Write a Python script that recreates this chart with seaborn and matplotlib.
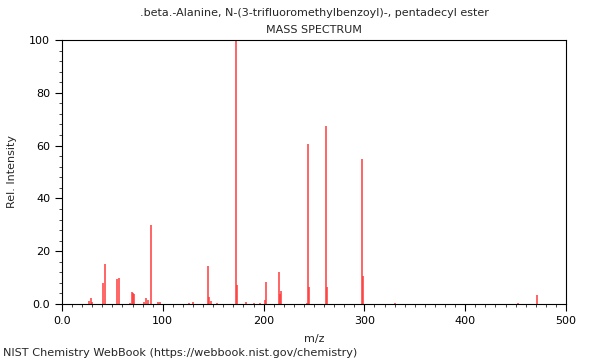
import matplotlib
matplotlib.use("Agg")
import matplotlib.pyplot as plt
import seaborn as sns
import numpy as np
import pandas as pd
from matplotlib.ticker import MultipleLocator, FuncFormatter

title = ".beta.-Alanine, N-(3-trifluoromethylbenzoyl)-, pentadecyl ester"
subtitle = "MASS SPECTRUM"
footer = "NIST Chemistry WebBook (https://webbook.nist.gov/chemistry)"

mz = [27, 29, 30, 41, 43, 55, 57, 67, 69, 70, 71, 81, 83, 85, 88, 95, 97,
      126, 130, 145, 146, 148, 154, 173, 174, 183, 190, 196, 201, 202,
      215, 216, 217, 243, 244, 245, 262, 263, 298, 299, 330, 452, 471]
intensity = [1.0, 2.1, 0.8, 8.0, 15.3, 9.3, 9.8, 0.5, 4.6, 4.2, 3.6, 0.6, 2.2, 1.4, 30.0, 0.7, 0.6,
             0.5, 0.8, 14.4, 2.6, 1.0, 0.5, 100.0, 7.2, 0.9, 0.4, 0.3, 1.6, 8.5,
             12.2, 3.9, 5.0, 0.5, 60.7, 6.6, 67.5, 6.6, 55.0, 10.5, 0.3, 0.5, 3.3]

df = pd.DataFrame({"mz": mz, "intensity": intensity})

sns.set_style("ticks")
plt.rcParams['font.family'] = ['DejaVu Sans']

fig = plt.figure(figsize=(6, 3.6), dpi=100)
ax = fig.add_axes([62/600, 1-304/360, 504/600, 264/360])

ax.vlines(df["mz"], 0, df["intensity"], color="#ff3a3a", linewidth=1.1)

ax.set_xlim(0, 500)
ax.set_ylim(0, 100)
ax.xaxis.set_major_locator(MultipleLocator(100))
ax.xaxis.set_minor_locator(MultipleLocator(10))
ax.yaxis.set_major_locator(MultipleLocator(20))
ax.yaxis.set_minor_locator(MultipleLocator(4))
fmt = FuncFormatter(lambda v, p: "0.0" if v == 0 else f"{v:.0f}")
ax.xaxis.set_major_formatter(fmt)
ax.yaxis.set_major_formatter(fmt)
ax.tick_params(which="major", direction="out", length=5, width=0.8, labelsize=8, colors="black")
ax.tick_params(which="minor", direction="out", length=2.5, width=0.6)
for s in ax.spines.values():
    s.set_visible(True)
    s.set_color("black")
    s.set_linewidth(0.8)

ax.set_xlabel("m/z", fontsize=8, labelpad=6)
ax.set_ylabel("Rel. Intensity", fontsize=8, labelpad=9)

fig.text(314/600, 1-13/360, title, ha="center", va="center", fontsize=8)
fig.text(314/600, 1-30/360, subtitle, ha="center", va="center", fontsize=8)
fig.text(3/600, 1-353/360, footer, ha="left", va="center", fontsize=8.1)

fig.savefig("out.png", dpi=100)
